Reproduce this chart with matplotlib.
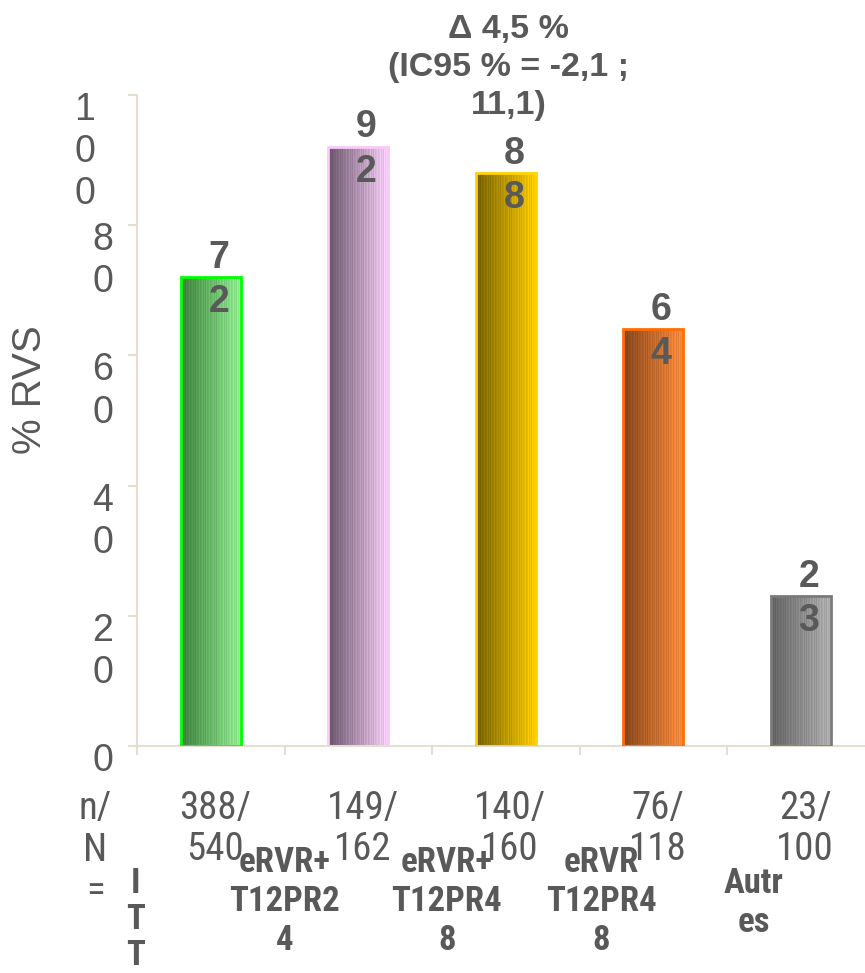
import numpy as np
import matplotlib
matplotlib.use("Agg")
import matplotlib.pyplot as plt
from matplotlib.colors import to_rgb
import matplotlib.transforms as mtransforms
from matplotlib import font_manager as fm

# ---- data ----
categories = ["I\nT\nT", "eRVR+\nT12PR2\n4", "eRVR+\nT12PR4\n8", "eRVR\nT12PR4\n8", "Autr\nes"]
values = [72, 92, 88, 64, 23]
value_labels = ["7\n2", "9\n2", "8\n8", "6\n4", "2\n3"]
counts = ["388/\n540", "149/\n162", "140/\n160", "76/\n118", "23/\n100"]
yticks = [0, 20, 40, 60, 80, 100]
ytick_labels = ["0", "2\n0", "4\n0", "6\n0", "8\n0", "1\n0\n0"]
annotation = "Δ 4,5 %\n(IC95 % = -2,1 ;\n11,1)"
nN_label = "n/\nN\n="
ylabel = "% RVS"

# ---- styles ----
dark_cols = ["#3F7F3F", "#6A556A", "#786200", "#84461C", "#626262"]
light_cols = ["#92F292", "#FAD2FA", "#FFCF00", "#FF8C3C", "#B2B2B2"]
edge_cols = ["#00FF00", "#F9C9F9", "#FFD200", "#FF6E00", "#7A7A7A"]
cat_label_x = [-0.51, 0.50, 1.60, 2.65, 3.68]
cat_label_y = [-0.266, -0.239, -0.239, -0.239, -0.241]
TXT = "#595959"
SPINE = "#E4DFD1"
ARIAL = ["Liberation Sans", "DejaVu Sans"]


def _stretch_val(st):
    if isinstance(st, (int, float)):
        return st
    return {"ultra-condensed": 100, "extra-condensed": 200, "condensed": 300,
            "semi-condensed": 400, "normal": 500}.get(st, 500)


def _weight_val(w):
    if isinstance(w, (int, float)):
        return w
    return fm.weight_dict.get(w, 400)


def pick_narrow(bold):
    prefs = ["Liberation Sans Narrow", "Arial Narrow", "Roboto Condensed",
             "Open Sans Condensed", "Noto Sans", "Noto Sans Condensed",
             "Open Sans", "Roboto", "DejaVu Sans", "DejaVu Sans Condensed"]
    target = 700 if bold else 400
    best = None
    for f in fm.fontManager.ttflist:
        nm, fn = f.name, f.fname
        cond = (_stretch_val(f.stretch) < 500 or "Narrow" in nm or "Condensed" in nm
                or "Narrow" in fn or "Condensed" in fn)
        if not cond or f.style != "normal":
            continue
        if "Mono" in nm or "Serif" in nm or "Italic" in fn:
            continue
        if abs(_weight_val(f.weight) - target) > 100:
            continue
        rank = prefs.index(nm) if nm in prefs else len(prefs)
        key = (rank, abs(_weight_val(f.weight) - target), _stretch_val(f.stretch))
        if best is None or key < best[0]:
            best = (key, fn)
    return best[1] if best else None


narrow_reg = pick_narrow(False)
narrow_bold = pick_narrow(True)


def fp(path, size, bold):
    if path:
        return fm.FontProperties(fname=path, size=size)
    return fm.FontProperties(family=ARIAL, size=size * 0.9,
                             weight="bold" if bold else "normal")


fig = plt.figure(figsize=(8.65, 9.73), dpi=100)
ax = fig.add_axes([137 / 865, (973 - 746) / 973, 737.5 / 865, 651 / 973])

x = np.arange(len(values))
bw = 0.41
bars = ax.bar(x, values, width=bw, facecolor="none", edgecolor=edge_cols,
              linewidth=2, zorder=3)

stripe = np.array([0.0, 0.07, -0.05, 0.03, -0.07, 0.05, -0.02, 0.0, 0.06, -0.04])
for b, dc, lc in zip(bars, dark_cols, light_cols):
    n = 60
    t = np.linspace(0, 1, n)[:, None]
    d = np.array(to_rgb(dc))[None, :]
    l = np.array(to_rgb(lc))[None, :]
    col = d + (l - d) * t
    mod = np.resize(stripe, n)[:, None]
    col = np.clip(col * (1 + mod), 0, 1)
    img = col[None, :, :]
    x0 = b.get_x()
    im = ax.imshow(img, extent=(x0, x0 + b.get_width(), 0, b.get_height()),
                   aspect="auto", interpolation="nearest", zorder=2)
    im.set_clip_path(b)

ax.set_xlim(-0.5, len(values) - 0.5)
ax.set_ylim(0, 100)

for s in ["top", "right"]:
    ax.spines[s].set_visible(False)
for s in ["left", "bottom"]:
    ax.spines[s].set_color(SPINE)
    ax.spines[s].set_linewidth(1.5)

ax.set_yticks(yticks)
ax.set_yticklabels([""] * len(yticks))
ax.tick_params(axis="y", length=6.5, width=1.5, color=SPINE, direction="out")
ax.set_xticks([])
ax.set_xticks(np.arange(len(values) + 1) - 0.5, minor=True)
ax.tick_params(axis="x", which="minor", length=6.5, width=1.5, color=SPINE, direction="out")
ax.tick_params(axis="x", which="major", length=0)

# y tick labels
ytrans = ax.get_yaxis_transform()
for yv, lab in zip(yticks, ytick_labels):
    dx = -34 if yv != 100 else -52
    off = mtransforms.ScaledTranslation(dx / 100, 3 / 100, fig.dpi_scale_trans)
    ax.text(0, yv, lab, transform=ytrans + off, ha="center", va="top",
            fontsize=27, color=TXT, family=ARIAL, linespacing=1.22)

# y label
fig.text(30 / 865, 1 - 390 / 973, ylabel, rotation=90, ha="center", va="center",
         fontsize=29, color=TXT, family=ARIAL)

# value labels
for xi, v, lab in zip(x, values, value_labels):
    ax.text(xi + 0.055, v - 0.4, lab, ha="center", va="center", fontsize=27,
            fontweight="bold", color=TXT, family=ARIAL, linespacing=1.3, zorder=5)

# annotation
ax.text(2.02, 1.042, annotation, transform=ax.get_xaxis_transform(), ha="center",
        va="center", fontsize=24.5, fontweight="bold", color=TXT, family=ARIAL,
        linespacing=1.3)

xtrans = ax.get_xaxis_transform()
# counts row
for xi, c in zip(x, counts):
    ax.text(xi + 0.03, -0.1275, c, transform=xtrans, ha="center", va="center",
            fontproperties=fp(narrow_reg, 28, False), color=TXT,
            linespacing=1.15, clip_on=False)
ax.text(-0.785, -0.16, nN_label, transform=xtrans, ha="center", va="center",
        fontproperties=fp(narrow_reg, 28, False), color=TXT,
        linespacing=1.15, clip_on=False)

# category labels
for i, (cx, cy, lab) in enumerate(zip(cat_label_x, cat_label_y, categories)):
    p = fp(narrow_bold, 25, True)
    if narrow_bold:
        p.set_weight("bold")
    ax.text(cx, cy, lab, transform=xtrans, ha="center", va="center",
            fontproperties=p, color=TXT, linespacing=1.12 if i == 0 else 1.22,
            clip_on=False)

fig.savefig("out.png", dpi=100)
